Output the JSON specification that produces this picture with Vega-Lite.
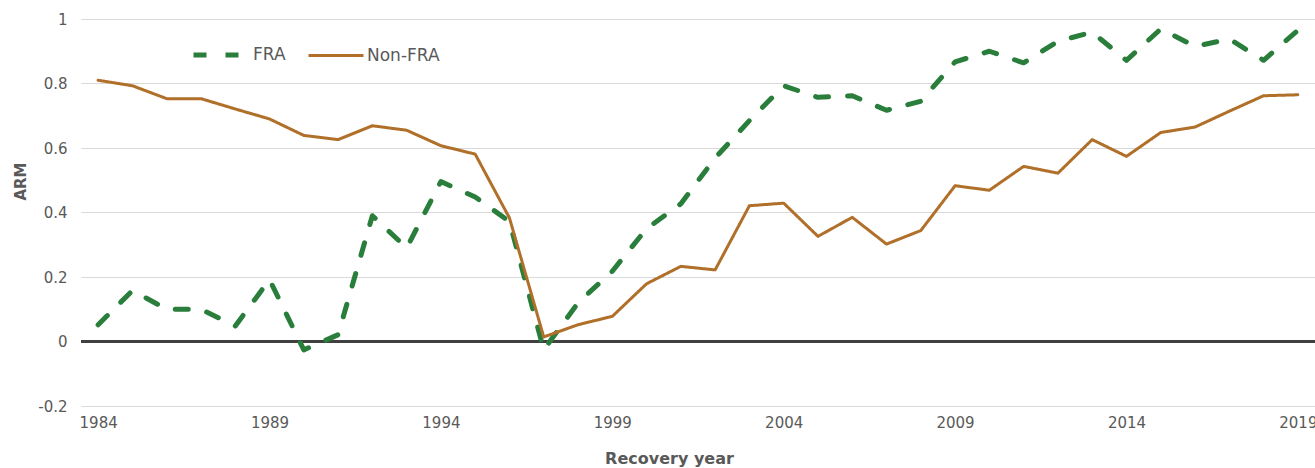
{
  "$schema": "https://vega.github.io/schema/vega-lite/v6.json",
  "width": 1234,
  "height": 387,
  "autosize": {"type": "none"},
  "padding": {"left": 81, "top": 19, "right": 0, "bottom": 62},
  "background": "white",
  "config": {
    "view": {"stroke": null},
    "font": "DejaVu Sans"
  },
  "data": {
    "values": [
      {"year": 1984, "series": "FRA", "ARM": 0.052},
      {"year": 1985, "series": "FRA", "ARM": 0.158},
      {"year": 1986, "series": "FRA", "ARM": 0.10},
      {"year": 1987, "series": "FRA", "ARM": 0.10},
      {"year": 1988, "series": "FRA", "ARM": 0.048},
      {"year": 1989, "series": "FRA", "ARM": 0.192},
      {"year": 1990, "series": "FRA", "ARM": -0.026},
      {"year": 1991, "series": "FRA", "ARM": 0.021},
      {"year": 1992, "series": "FRA", "ARM": 0.39},
      {"year": 1993, "series": "FRA", "ARM": 0.29},
      {"year": 1994, "series": "FRA", "ARM": 0.496},
      {"year": 1995, "series": "FRA", "ARM": 0.448},
      {"year": 1996, "series": "FRA", "ARM": 0.372},
      {"year": 1997, "series": "FRA", "ARM": -0.026},
      {"year": 1998, "series": "FRA", "ARM": 0.12},
      {"year": 1999, "series": "FRA", "ARM": 0.218},
      {"year": 2000, "series": "FRA", "ARM": 0.35},
      {"year": 2001, "series": "FRA", "ARM": 0.427},
      {"year": 2002, "series": "FRA", "ARM": 0.569},
      {"year": 2003, "series": "FRA", "ARM": 0.685},
      {"year": 2004, "series": "FRA", "ARM": 0.793},
      {"year": 2005, "series": "FRA", "ARM": 0.757},
      {"year": 2006, "series": "FRA", "ARM": 0.762},
      {"year": 2007, "series": "FRA", "ARM": 0.717},
      {"year": 2008, "series": "FRA", "ARM": 0.745},
      {"year": 2009, "series": "FRA", "ARM": 0.867},
      {"year": 2010, "series": "FRA", "ARM": 0.90},
      {"year": 2011, "series": "FRA", "ARM": 0.864},
      {"year": 2012, "series": "FRA", "ARM": 0.931},
      {"year": 2013, "series": "FRA", "ARM": 0.959},
      {"year": 2014, "series": "FRA", "ARM": 0.872},
      {"year": 2015, "series": "FRA", "ARM": 0.969},
      {"year": 2016, "series": "FRA", "ARM": 0.915},
      {"year": 2017, "series": "FRA", "ARM": 0.938},
      {"year": 2018, "series": "FRA", "ARM": 0.872},
      {"year": 2019, "series": "FRA", "ARM": 0.965},
      {"year": 1984, "series": "Non-FRA", "ARM": 0.81},
      {"year": 1985, "series": "Non-FRA", "ARM": 0.793},
      {"year": 1986, "series": "Non-FRA", "ARM": 0.753},
      {"year": 1987, "series": "Non-FRA", "ARM": 0.753},
      {"year": 1988, "series": "Non-FRA", "ARM": 0.721},
      {"year": 1989, "series": "Non-FRA", "ARM": 0.69},
      {"year": 1990, "series": "Non-FRA", "ARM": 0.639},
      {"year": 1991, "series": "Non-FRA", "ARM": 0.626},
      {"year": 1992, "series": "Non-FRA", "ARM": 0.669},
      {"year": 1993, "series": "Non-FRA", "ARM": 0.655},
      {"year": 1994, "series": "Non-FRA", "ARM": 0.607},
      {"year": 1995, "series": "Non-FRA", "ARM": 0.581},
      {"year": 1996, "series": "Non-FRA", "ARM": 0.383},
      {"year": 1997, "series": "Non-FRA", "ARM": 0.014},
      {"year": 1998, "series": "Non-FRA", "ARM": 0.052},
      {"year": 1999, "series": "Non-FRA", "ARM": 0.078},
      {"year": 2000, "series": "Non-FRA", "ARM": 0.179},
      {"year": 2001, "series": "Non-FRA", "ARM": 0.233},
      {"year": 2002, "series": "Non-FRA", "ARM": 0.222},
      {"year": 2003, "series": "Non-FRA", "ARM": 0.421},
      {"year": 2004, "series": "Non-FRA", "ARM": 0.429},
      {"year": 2005, "series": "Non-FRA", "ARM": 0.326},
      {"year": 2006, "series": "Non-FRA", "ARM": 0.385},
      {"year": 2007, "series": "Non-FRA", "ARM": 0.302},
      {"year": 2008, "series": "Non-FRA", "ARM": 0.344},
      {"year": 2009, "series": "Non-FRA", "ARM": 0.483},
      {"year": 2010, "series": "Non-FRA", "ARM": 0.469},
      {"year": 2011, "series": "Non-FRA", "ARM": 0.543},
      {"year": 2012, "series": "Non-FRA", "ARM": 0.522},
      {"year": 2013, "series": "Non-FRA", "ARM": 0.626},
      {"year": 2014, "series": "Non-FRA", "ARM": 0.574},
      {"year": 2015, "series": "Non-FRA", "ARM": 0.648},
      {"year": 2016, "series": "Non-FRA", "ARM": 0.665},
      {"year": 2017, "series": "Non-FRA", "ARM": 0.714},
      {"year": 2018, "series": "Non-FRA", "ARM": 0.762},
      {"year": 2019, "series": "Non-FRA", "ARM": 0.765}
    ]
  },
  "layer": [
    {
      "mark": {"type": "rule", "stroke": "#404040", "strokeWidth": 2.5},
      "encoding": {
        "y": {"datum": 0, "type": "quantitative", "scale": {"domain": [-0.2, 1], "nice": false, "zero": false}}
      }
    },
    {
      "mark": {"type": "line", "strokeCap": "round", "strokeJoin": "round"},
      "encoding": {
        "x": {
          "field": "year",
          "type": "quantitative",
          "scale": {"domain": [1983.5, 2019.5], "nice": false, "zero": false},
          "axis": {
            "title": "Recovery year",
            "titleFont": "DejaVu Sans",
            "titleFontSize": 16,
            "titleFontWeight": "bold",
            "titleColor": "#595959",
            "titleX": 588,
            "titleY": 57,
            "titleAnchor": null,
            "titleAlign": "center",
            "titleBaseline": "alphabetic",
            "values": [1984, 1989, 1994, 1999, 2004, 2009, 2014, 2019],
            "format": "d",
            "labelFont": "DejaVu Sans",
            "labelFontSize": 15,
            "labelColor": "#595959",
            "labelPadding": 9,
            "labelFlush": false,
            "labelOverlap": false,
            "labelBaseline": "top",
            "ticks": false,
            "tickSize": 0,
            "domain": false,
            "grid": false
          }
        },
        "y": {
          "field": "ARM",
          "type": "quantitative",
          "scale": {"domain": [-0.2, 1], "nice": false, "zero": false},
          "axis": {
            "title": "ARM",
            "titleFont": "DejaVu Sans",
            "titleFontSize": 15,
            "titleFontWeight": "bold",
            "titleColor": "#595959",
            "titleAngle": -90,
            "titleX": -61,
            "titleY": 162,
            "titleAlign": "center",
            "titleBaseline": "middle",
            "values": [-0.2, 0, 0.2, 0.4, 0.6, 0.8, 1],
            "labelExpr": "'' + datum.value",
            "labelFont": "DejaVu Sans",
            "labelFontSize": 15,
            "labelColor": "#595959",
            "labelPadding": 14,
            "ticks": false,
            "tickSize": 0,
            "domain": false,
            "grid": true,
            "gridColor": "#D9D9D9",
            "gridWidth": 1
          }
        },
        "color": {
          "field": "series",
          "type": "nominal",
          "scale": {"domain": ["FRA", "Non-FRA"], "range": ["#2A7E3B", "#B0702A"]},
          "legend": {
            "title": null,
            "orient": "none",
            "direction": "horizontal",
            "legendX": 110,
            "legendY": 6,
            "padding": 0,
            "symbolType": "stroke",
            "symbolSize": 3025,
            "symbolStrokeWidth": 4,
            "labelFont": "DejaVu Sans",
            "labelFontSize": 17,
            "labelColor": "#595959",
            "labelOffset": 2,
            "columnPadding": 16
          }
        },
        "strokeDash": {
          "field": "series",
          "type": "nominal",
          "scale": {"domain": ["FRA", "Non-FRA"], "range": [[13, 19], [1, 0]]},
          "legend": {
            "title": null,
            "orient": "none",
            "direction": "horizontal",
            "legendX": 110,
            "legendY": 6,
            "padding": 0,
            "symbolType": "stroke",
            "symbolSize": 3025,
            "symbolStrokeWidth": 4,
            "labelFont": "DejaVu Sans",
            "labelFontSize": 17,
            "labelColor": "#595959",
            "labelOffset": 2,
            "columnPadding": 16
          }
        },
        "strokeWidth": {
          "field": "series",
          "type": "nominal",
          "scale": {"domain": ["FRA", "Non-FRA"], "range": [5, 3]},
          "legend": null
        }
      }
    }
  ]
}
